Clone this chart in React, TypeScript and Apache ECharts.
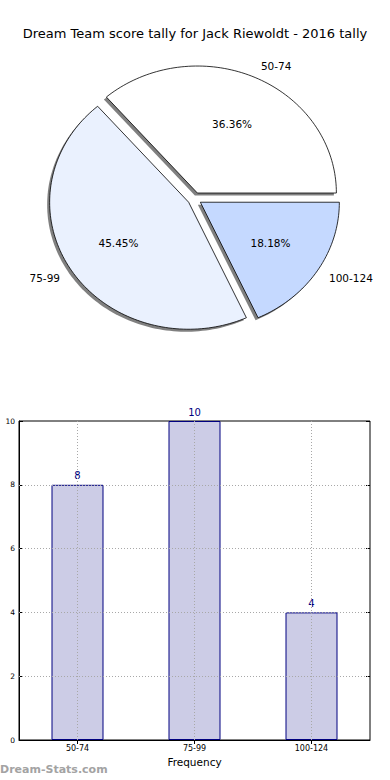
import React, { useEffect, useRef } from 'react';
import * as echarts from 'echarts';

const chartTitle = 'Dream Team score tally for Jack Riewoldt - 2016 tally';
const categories = ['50-74', '75-99', '100-124'];
const counts = [8, 10, 4];
const pieColors = ['#ffffff', '#eaf1fe', '#c5d9ff'];
const xAxisName = 'Frequency';
const yAxisName = 'Score Interval';
const watermark = 'Dream-Stats.com';

const FONT = '"DejaVu Sans", "Liberation Sans", sans-serif';

const total = counts.reduce((a, b) => a + b, 0);
const starts = counts.map((_, i) => counts.slice(0, i).reduce((a, b) => a + b, 0));

const PIE = { cx: 194.5, cy: 198.8, rx: 139, ry: 127, explode: 0.05, labelDist: 1.1, pctDist: 0.6, shadow: 2.5 };

function renderWedge(params: any, api: any) {
  const i = params.dataIndex;
  const v = api.value(1);
  const s = api.value(2);
  const a0 = (s / total) * 2 * Math.PI;
  const a1 = ((s + v) / total) * 2 * Math.PI;
  const am = (a0 + a1) / 2;
  const ox = PIE.cx + PIE.explode * PIE.rx * Math.cos(am);
  const oy = PIE.cy - PIE.explode * PIE.ry * Math.sin(am);
  const pts: number[][] = [[ox, oy]];
  const n = Math.max(8, Math.ceil((a1 - a0) / (Math.PI / 120)));
  for (let k = 0; k <= n; k++) {
    const a = a0 + ((a1 - a0) * k) / n;
    pts.push([ox + PIE.rx * Math.cos(a), oy - PIE.ry * Math.sin(a)]);
  }
  const shadowPts = pts.map(([x, y]) => [x - PIE.shadow, y + PIE.shadow]);
  const lx = ox + PIE.labelDist * PIE.rx * Math.cos(am);
  const ly = oy - PIE.labelDist * PIE.ry * Math.sin(am);
  const px = ox + PIE.pctDist * PIE.rx * Math.cos(am);
  const py = oy - PIE.pctDist * PIE.ry * Math.sin(am);
  const ha = Math.cos(am) > 0 ? 'left' : 'right';
  const pct = ((v / total) * 100).toFixed(2) + '%';
  return {
    type: 'group',
    children: [
      { type: 'polygon', shape: { points: shadowPts }, style: { fill: 'rgba(60,60,60,0.65)', stroke: 'none' } },
      { type: 'polygon', shape: { points: pts }, style: { fill: pieColors[i], stroke: '#000', lineWidth: 0.8 } },
      {
        type: 'text', x: lx, y: ly,
        style: { text: categories[i], fill: '#000', font: `10.5px ${FONT}`, align: ha, textAlign: ha, verticalAlign: 'middle', textVerticalAlign: 'middle' },
      },
      {
        type: 'text', x: px, y: py,
        style: { text: pct, fill: '#000', font: `10.5px ${FONT}`, align: 'center', textAlign: 'center', verticalAlign: 'middle', textVerticalAlign: 'middle' },
      },
    ],
  };
}

export default function App() {
  const ref = useRef<HTMLDivElement>(null);
  useEffect(() => {
    if (!ref.current) return;
    const chart = echarts.init(ref.current, null, { renderer: 'svg' });
    const gridLine = { color: '#a8a8a8', width: 1, type: [1, 2] as any };
    chart.setOption({
      animation: false,
      backgroundColor: '#fff',
      title: {
        text: chartTitle, left: 'center', top: 22,
        textStyle: { fontSize: 13, fontWeight: 'normal', fontFamily: FONT, color: '#000' },
      },
      graphic: [
        { type: 'text', left: 0, top: 764, style: { text: watermark, fill: '#a3a3a3', font: `bold 11px ${FONT}` } },
      ],
      grid: {
        left: 19, right: 20, top: 421, bottom: 40, show: true, borderColor: '#000', borderWidth: 1,
        containLabel: false, outerBoundsMode: 'none',
      },
      xAxis: [
        {
          type: 'category', data: categories, position: 'bottom',
          axisLine: { show: true, lineStyle: { color: '#000' } },
          axisTick: { show: true, inside: true, alignWithLabel: true, length: 4, lineStyle: { color: '#000' } },
          axisLabel: { fontSize: 8, color: '#000', fontFamily: FONT, margin: 4 },
          splitLine: { show: false },
          name: xAxisName, nameLocation: 'middle', nameGap: 16,
          nameTextStyle: { fontSize: 10.5, color: '#000', fontFamily: FONT },
        },
        {
          type: 'category', data: categories, position: 'top',
          axisLine: { show: false },
          axisTick: { show: true, inside: true, alignWithLabel: true, length: 4, lineStyle: { color: '#000' } },
          axisLabel: { show: false },
          splitLine: { show: false },
        },
      ],
      yAxis: [
        {
          type: 'value', min: 0, max: 10, interval: 2, position: 'left',
          axisLine: { show: true, lineStyle: { color: '#000' } },
          axisTick: { show: true, inside: true, length: 4, lineStyle: { color: '#000' } },
          axisLabel: { fontSize: 7.5, color: '#000', fontFamily: FONT, margin: 4 },
          splitLine: { show: false },
          name: yAxisName, nameLocation: 'middle', nameGap: 20,
          nameTextStyle: { fontSize: 10.5, color: '#000', fontFamily: FONT },
        },
        {
          type: 'value', min: 0, max: 10, interval: 2, position: 'right',
          axisLine: { show: false },
          axisTick: { show: true, inside: true, length: 4, lineStyle: { color: '#000' } },
          axisLabel: { show: false },
          splitLine: { show: false },
        },
      ],
      series: [
        {
          type: 'custom', coordinateSystem: 'none', renderItem: renderWedge,
          data: categories.map((c, i) => [i, counts[i], starts[i]]),
          silent: true,
        },
        {
          type: 'bar', xAxisIndex: 0, yAxisIndex: 0, data: counts, barWidth: 52,
          itemStyle: { color: '#ccccE6', borderColor: '#000080', borderWidth: 1 },
          label: { show: true, position: 'top', distance: 4, color: '#000080', fontSize: 10, fontFamily: FONT },
          markLine: {
            silent: true, symbol: ['none', 'none'], label: { show: false },
            lineStyle: gridLine,
            data: [
              ...categories.map((c) => ({ xAxis: c })),
              ...[2, 4, 6, 8].map((v) => ({ yAxis: v })),
            ],
          },
        },
      ],
    });
    return () => chart.dispose();
  }, []);
  return <div ref={ref} style={{ position: 'fixed', left: 0, top: 0, width: 390, height: 780 }} />;
}
